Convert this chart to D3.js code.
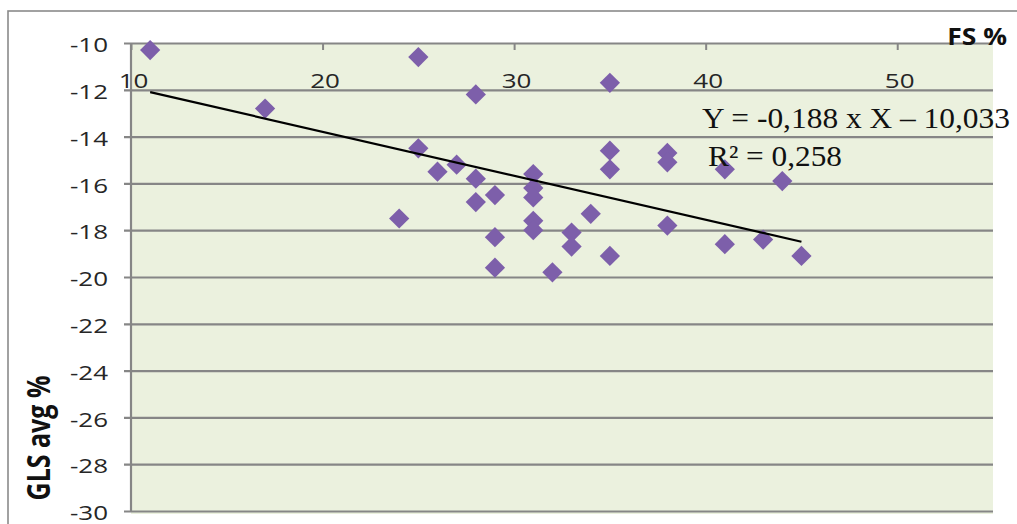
<!DOCTYPE html>
<html>
<head>
<meta charset="utf-8">
<script src="https://cdn.jsdelivr.net/npm/d3@7"></script>
<style>
  html, body { margin: 0; padding: 0; background: #ffffff; }
  svg { display: block; }
</style>
</head>
<body>
<svg id="chart" width="1017" height="524"></svg>
<script>
// FS % (x) against average GLS % (y), one diamond per subject
const fsValues = [11, 17, 25, 28, 35, 25, 26, 27, 28, 28, 29, 24, 29, 29,
                  31, 31, 31, 31, 31, 32, 33, 33, 34, 35, 35, 35, 38, 38,
                  38, 41, 41, 43, 44, 45];
const glsValues = [-10.3, -12.8, -10.6, -12.2, -11.7, -14.5, -15.5, -15.2, -15.8, -16.8, -16.5, -17.5, -18.3, -19.6,
                   -15.6, -16.2, -16.6, -17.6, -18.0, -19.8, -18.1, -18.7, -17.3, -14.6, -15.4, -19.1, -14.7, -15.1,
                   -17.8, -15.4, -18.6, -18.4, -15.9, -19.1];

// Linear regression reported on the chart
const slope = -0.188;
const intercept = -10.033;
const equationLines = ["Y = -0,188 x X \u2013 10,033", "R\u00b2 = 0,258"];

const xTicks = [10, 20, 30, 40, 50];
const yTicks = [-10, -12, -14, -16, -18, -20, -22, -24, -26, -28, -30];
const xTitle = "FS %";
const yTitle = "GLS avg %";

const svg = d3.select("#chart");
const plot = { left: 131, right: 993, top: 43, bottom: 511 };

const x = d3.scaleLinear().domain([10, 55]).range([plot.left, plot.right]);
const y = d3.scaleLinear().domain([-30, -10]).range([plot.bottom, plot.top]);

const gridColor = "#868686";
const tickTextColor = "#262626";
const wide = 1.3; // horizontal widening of the sans labels

// outer chart frame
svg.append("rect")
  .attr("x", 8).attr("y", 11)
  .attr("width", 1040).attr("height", 540)
  .attr("fill", "#ffffff")
  .attr("stroke", "#8a8a8a").attr("stroke-width", 1.6);

// plot area background
svg.append("rect")
  .attr("x", plot.left).attr("y", plot.top)
  .attr("width", plot.right - plot.left).attr("height", plot.bottom - plot.top + 3)
  .attr("fill", "#EBF1DE");

// horizontal gridlines with left-side ticks and labels
const yAxis = d3.axisLeft(y)
  .tickValues(yTicks)
  .tickSize(plot.right - plot.left + 7)
  .tickFormat(d3.format("d"));

const gy = svg.append("g")
  .attr("transform", `translate(${plot.right},0)`)
  .call(yAxis);
gy.select(".domain").remove();
gy.selectAll(".tick line")
  .attr("stroke", gridColor).attr("stroke-width", 2.2);
gy.selectAll(".tick text")
  .attr("dy", null)
  .attr("dominant-baseline", "central")
  .attr("font-family", "'Open Sans', sans-serif")
  .attr("font-size", 20)
  .attr("fill", tickTextColor)
  .attr("text-anchor", "end")
  .attr("transform", `translate(${-(plot.right - 108)},1) scale(${wide},1)`)
  .attr("x", 0)
  .text(d => d3.format("d")(d).replace("\u2212", "-"));

// left axis line
svg.append("line")
  .attr("x1", plot.left).attr("x2", plot.left)
  .attr("y1", plot.top).attr("y2", plot.bottom)
  .attr("stroke", gridColor).attr("stroke-width", 2.2);

// x axis along the top gridline, ticks pointing into the plot
const xAxis = d3.axisBottom(x)
  .tickValues(xTicks)
  .tickSize(7)
  .tickFormat(d3.format("d"));

const gx = svg.append("g")
  .attr("transform", `translate(0,${plot.top})`)
  .call(xAxis);
gx.select(".domain").remove();
gx.selectAll(".tick line")
  .attr("stroke", gridColor).attr("stroke-width", 2);
gx.selectAll(".tick text")
  .attr("dy", null)
  .attr("font-family", "'Open Sans', sans-serif")
  .attr("font-size", 20)
  .attr("fill", tickTextColor)
  .attr("text-anchor", "middle")
  .attr("transform", `translate(2,${88 - plot.top}) scale(${wide},1)`)
  .attr("y", 0);

// data points as diamonds
const points = fsValues.map((v, i) => ({ fs: v, gls: glsValues[i] }));
const diamond = d3.symbol().type(d3.symbolSquare).size(205);
svg.append("g")
  .selectAll("path")
  .data(points)
  .join("path")
  .attr("d", diamond)
  .attr("transform", d => `translate(${x(d.fs)},${y(d.gls)}) rotate(45)`)
  .attr("fill", "#7D5FAA");

// regression line over the observed FS range
const [fsMin, fsMax] = d3.extent(fsValues);
const trend = [fsMin, fsMax].map(v => ({ fs: v, gls: slope * v + intercept }));
svg.append("path")
  .datum(trend)
  .attr("d", d3.line().x(d => x(d.fs)).y(d => y(d.gls)))
  .attr("fill", "none")
  .attr("stroke", "#000000")
  .attr("stroke-width", 2.2);

// regression equation
svg.append("text")
  .attr("x", 702).attr("y", 128)
  .attr("font-family", "'Liberation Serif', 'Times New Roman', serif")
  .attr("font-size", 30)
  .attr("fill", "#111111")
  .attr("textLength", 308)
  .attr("lengthAdjust", "spacingAndGlyphs")
  .text(equationLines[0]);
svg.append("text")
  .attr("x", 708).attr("y", 166)
  .attr("font-family", "'Liberation Serif', 'Times New Roman', serif")
  .attr("font-size", 30)
  .attr("fill", "#111111")
  .attr("textLength", 134)
  .attr("lengthAdjust", "spacingAndGlyphs")
  .text(equationLines[1]);

// axis titles
svg.append("text")
  .attr("transform", `translate(1007,45) scale(1.15,1)`)
  .attr("text-anchor", "end")
  .attr("font-family", "'Open Sans', sans-serif")
  .attr("font-weight", "bold")
  .attr("font-size", 23)
  .attr("fill", "#111111")
  .text(xTitle);

svg.append("text")
  .attr("transform", `translate(50,438) scale(${wide},1) rotate(-90)`)
  .attr("text-anchor", "middle")
  .attr("font-family", "'Open Sans', sans-serif")
  .attr("font-weight", "bold")
  .attr("font-size", 25)
  .attr("fill", "#111111")
  .text(yTitle);
</script>
</body>
</html>
